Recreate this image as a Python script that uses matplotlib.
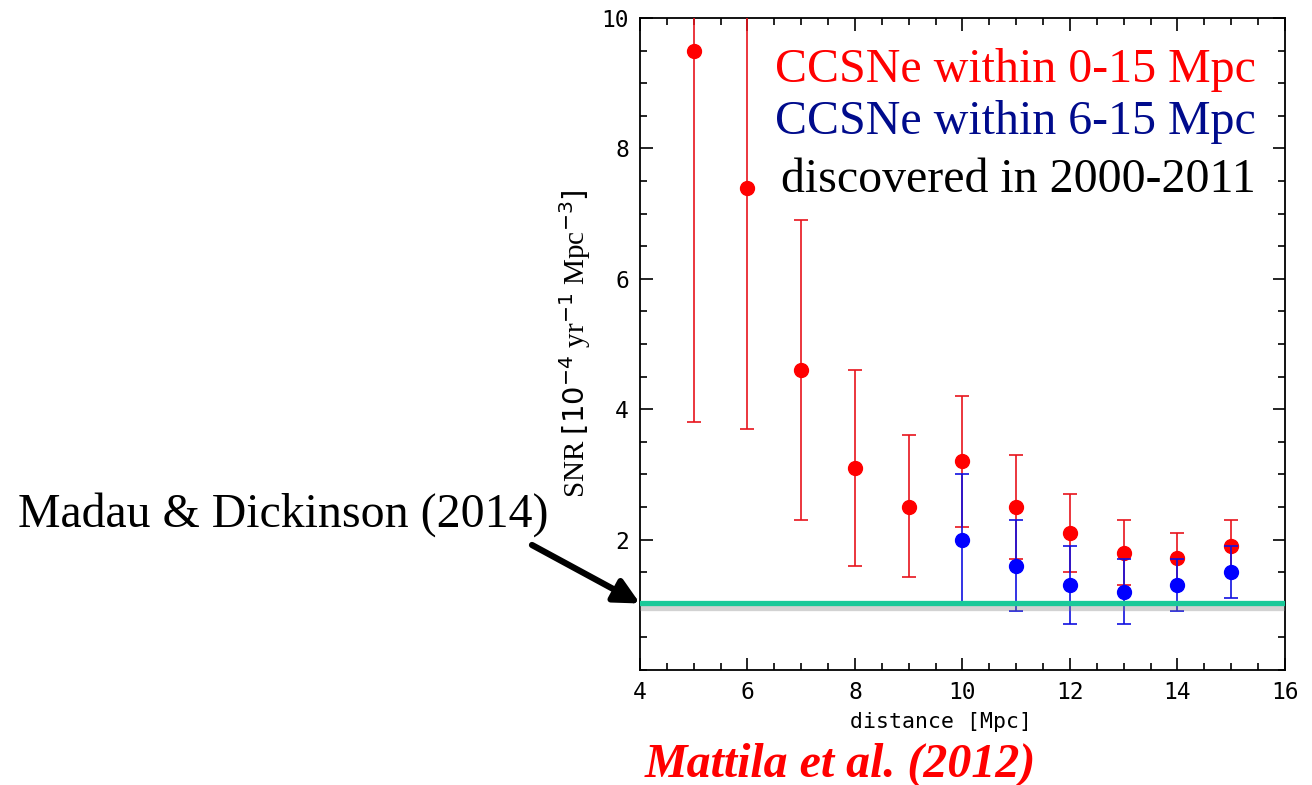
import numpy as np
import matplotlib
matplotlib.use("Agg")
from matplotlib import pyplot as plt
from matplotlib import patheffects as pe
from matplotlib.ticker import MultipleLocator

# CCSNe within 0-15 Mpc
red_dist = [5, 6, 7, 8, 9, 10, 11, 12, 13, 14, 15]
red_snr = [9.5, 7.4, 4.6, 3.1, 2.5, 3.2, 2.5, 2.1, 1.8, 1.72, 1.9]
red_lo = [3.8, 3.7, 2.3, 1.6, 1.43, 2.2, 1.7, 1.5, 1.3, 1.3, 1.5]
red_hi = [15.0, 15.0, 6.9, 4.6, 3.6, 4.2, 3.3, 2.7, 2.3, 2.1, 2.3]

# CCSNe within 6-15 Mpc
blue_dist = [10, 11, 12, 13, 14, 15]
blue_snr = [2.0, 1.6, 1.3, 1.2, 1.3, 1.5]
blue_lo = [1.0, 0.9, 0.7, 0.7, 0.9, 1.1]
blue_hi = [3.0, 2.3, 1.9, 1.7, 1.7, 1.9]

madau_level = 1.02

fig = plt.figure(figsize=(13.12, 7.85), dpi=100)
ax = fig.add_axes([0.4878, 0.1465, 0.4916, 0.8305])

rs = np.array(red_snr)
ax.errorbar(red_dist, rs, yerr=[rs - np.array(red_lo), np.array(red_hi) - rs],
            fmt="o", color="#ff0000", ecolor="#e8141c", ms=10, elinewidth=1.2,
            capsize=4.7, capthick=1.2, zorder=3)
bs = np.array(blue_snr)
ax.errorbar(blue_dist, bs, yerr=[bs - np.array(blue_lo), np.array(blue_hi) - bs],
            fmt="o", color="#0000ff", ecolor="#1010e0", ms=10, elinewidth=1.2,
            capsize=4.7, capthick=1.2, zorder=4)

ax.axhline(madau_level, color="#19c999", lw=3.8, zorder=5,
           path_effects=[pe.SimpleLineShadow(offset=(0, -3), shadow_color="gray", alpha=0.35),
                         pe.Normal()])

ax.set_xlim(4, 16)
ax.set_ylim(0, 10)
ax.set_xticks([4, 6, 8, 10, 12, 14, 16])
ax.set_yticks([2, 4, 6, 8, 10])
ax.xaxis.set_minor_locator(MultipleLocator(0.5))
ax.yaxis.set_minor_locator(MultipleLocator(0.5))
ax.tick_params(which="both", direction="in", top=True, right=True, width=1.2)
ax.tick_params(which="major", length=9, labelsize=16.5, pad=8)
ax.tick_params(which="minor", length=5)
for lab in ax.get_xticklabels() + ax.get_yticklabels():
    lab.set_family("DejaVu Sans Mono")
for s in ax.spines.values():
    s.set_linewidth(1.3)

ax.set_xlabel("distance [Mpc]", family="DejaVu Sans Mono", fontsize=15.5)
ax.xaxis.set_label_coords(0.467, -0.064)
plt.rcParams["mathtext.fontset"] = "stix"
ax.set_ylabel(r"SNR $[10^{-4}$ yr$^{-1}$ Mpc$^{-3}]$", family="Liberation Serif",
              fontsize=21, labelpad=6)

ax.text(0.955, 0.92, "CCSNe within 0-15 Mpc", transform=ax.transAxes, ha="right",
        va="center", color="#ff0000", family="Liberation Serif", fontsize=34.5)
ax.text(0.955, 0.84, "CCSNe within 6-15 Mpc", transform=ax.transAxes, ha="right",
        va="center", color="#000b8c", family="Liberation Serif", fontsize=34.5)
ax.text(0.955, 0.752, "discovered in 2000-2011", transform=ax.transAxes, ha="right",
        va="center", color="black", family="Liberation Serif", fontsize=34.5)

fig.text(18 / 1312, 1 - 515 / 785, "Madau & Dickinson (2014)", ha="left", va="center",
         family="Liberation Serif", fontsize=34.5)
ax.annotate("", xy=(4, madau_level), xycoords="data",
            xytext=(532 / 1312, 1 - 545 / 785), textcoords="figure fraction",
            arrowprops=dict(arrowstyle="-|>,head_length=1.5,head_width=0.75",
                            color="black", lw=4.5, shrinkA=0, shrinkB=0),
            annotation_clip=False)

fig.text(840 / 1312, 1 - 765 / 785, "Mattila et al. (2012)", ha="center", va="center",
         family="Liberation Serif", style="italic", weight="bold", color="#ff0000",
         fontsize=34.5)

fig.savefig("out.png", dpi=100)
